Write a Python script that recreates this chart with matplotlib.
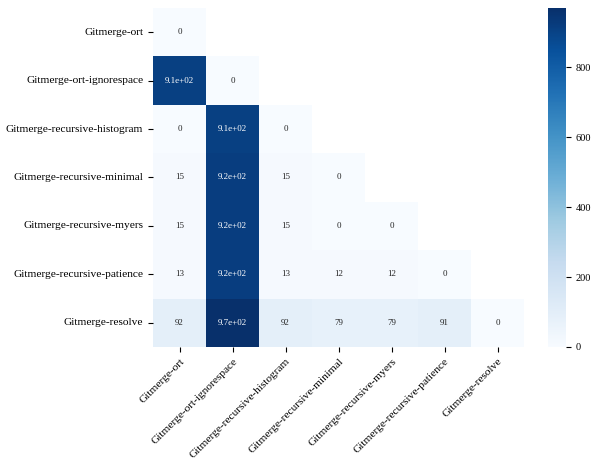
import matplotlib
matplotlib.use("Agg")
import matplotlib.pyplot as plt
import numpy as np
import seaborn as sns

plt.rcParams['font.family'] = ['Liberation Serif', 'DejaVu Serif']

tools = [
    "Gitmerge-ort",
    "Gitmerge-ort-ignorespace",
    "Gitmerge-recursive-histogram",
    "Gitmerge-recursive-minimal",
    "Gitmerge-recursive-myers",
    "Gitmerge-recursive-patience",
    "Gitmerge-resolve",
]

# lower triangle incl. diagonal, row by row
lower_rows = [
    [0],
    [910, 0],
    [0, 910, 0],
    [15, 920, 15, 0],
    [15, 920, 15, 0, 0],
    [13, 920, 13, 12, 12, 0],
    [92, 970, 92, 79, 79, 91, 0],
]

n = len(tools)
data = np.zeros((n, n))
for i, row in enumerate(lower_rows):
    data[i, :len(row)] = row
mask = np.triu(np.ones((n, n), dtype=bool), k=1)

fig = plt.figure(figsize=(5.92, 4.61), dpi=100)
ax = fig.add_axes([153 / 592, 1 - 347 / 461, 371 / 592, 339 / 461])
cax = fig.add_axes([548 / 592, 1 - 347 / 461, 18 / 592, 339 / 461])

sns.heatmap(data, mask=mask, cmap="Blues", annot=True, ax=ax, cbar_ax=cax,
            vmin=0, annot_kws={"size": 6.5},
            xticklabels=tools, yticklabels=tools)

ax.set_xticklabels(tools, rotation=45, ha="right", rotation_mode="anchor", fontsize=8.2)
ax.set_yticklabels(tools, rotation=0, fontsize=8.2)
cax.tick_params(labelsize=7.5)
cax.set_yticks([0, 200, 400, 600, 800])

fig.savefig("out.png", dpi=100)
